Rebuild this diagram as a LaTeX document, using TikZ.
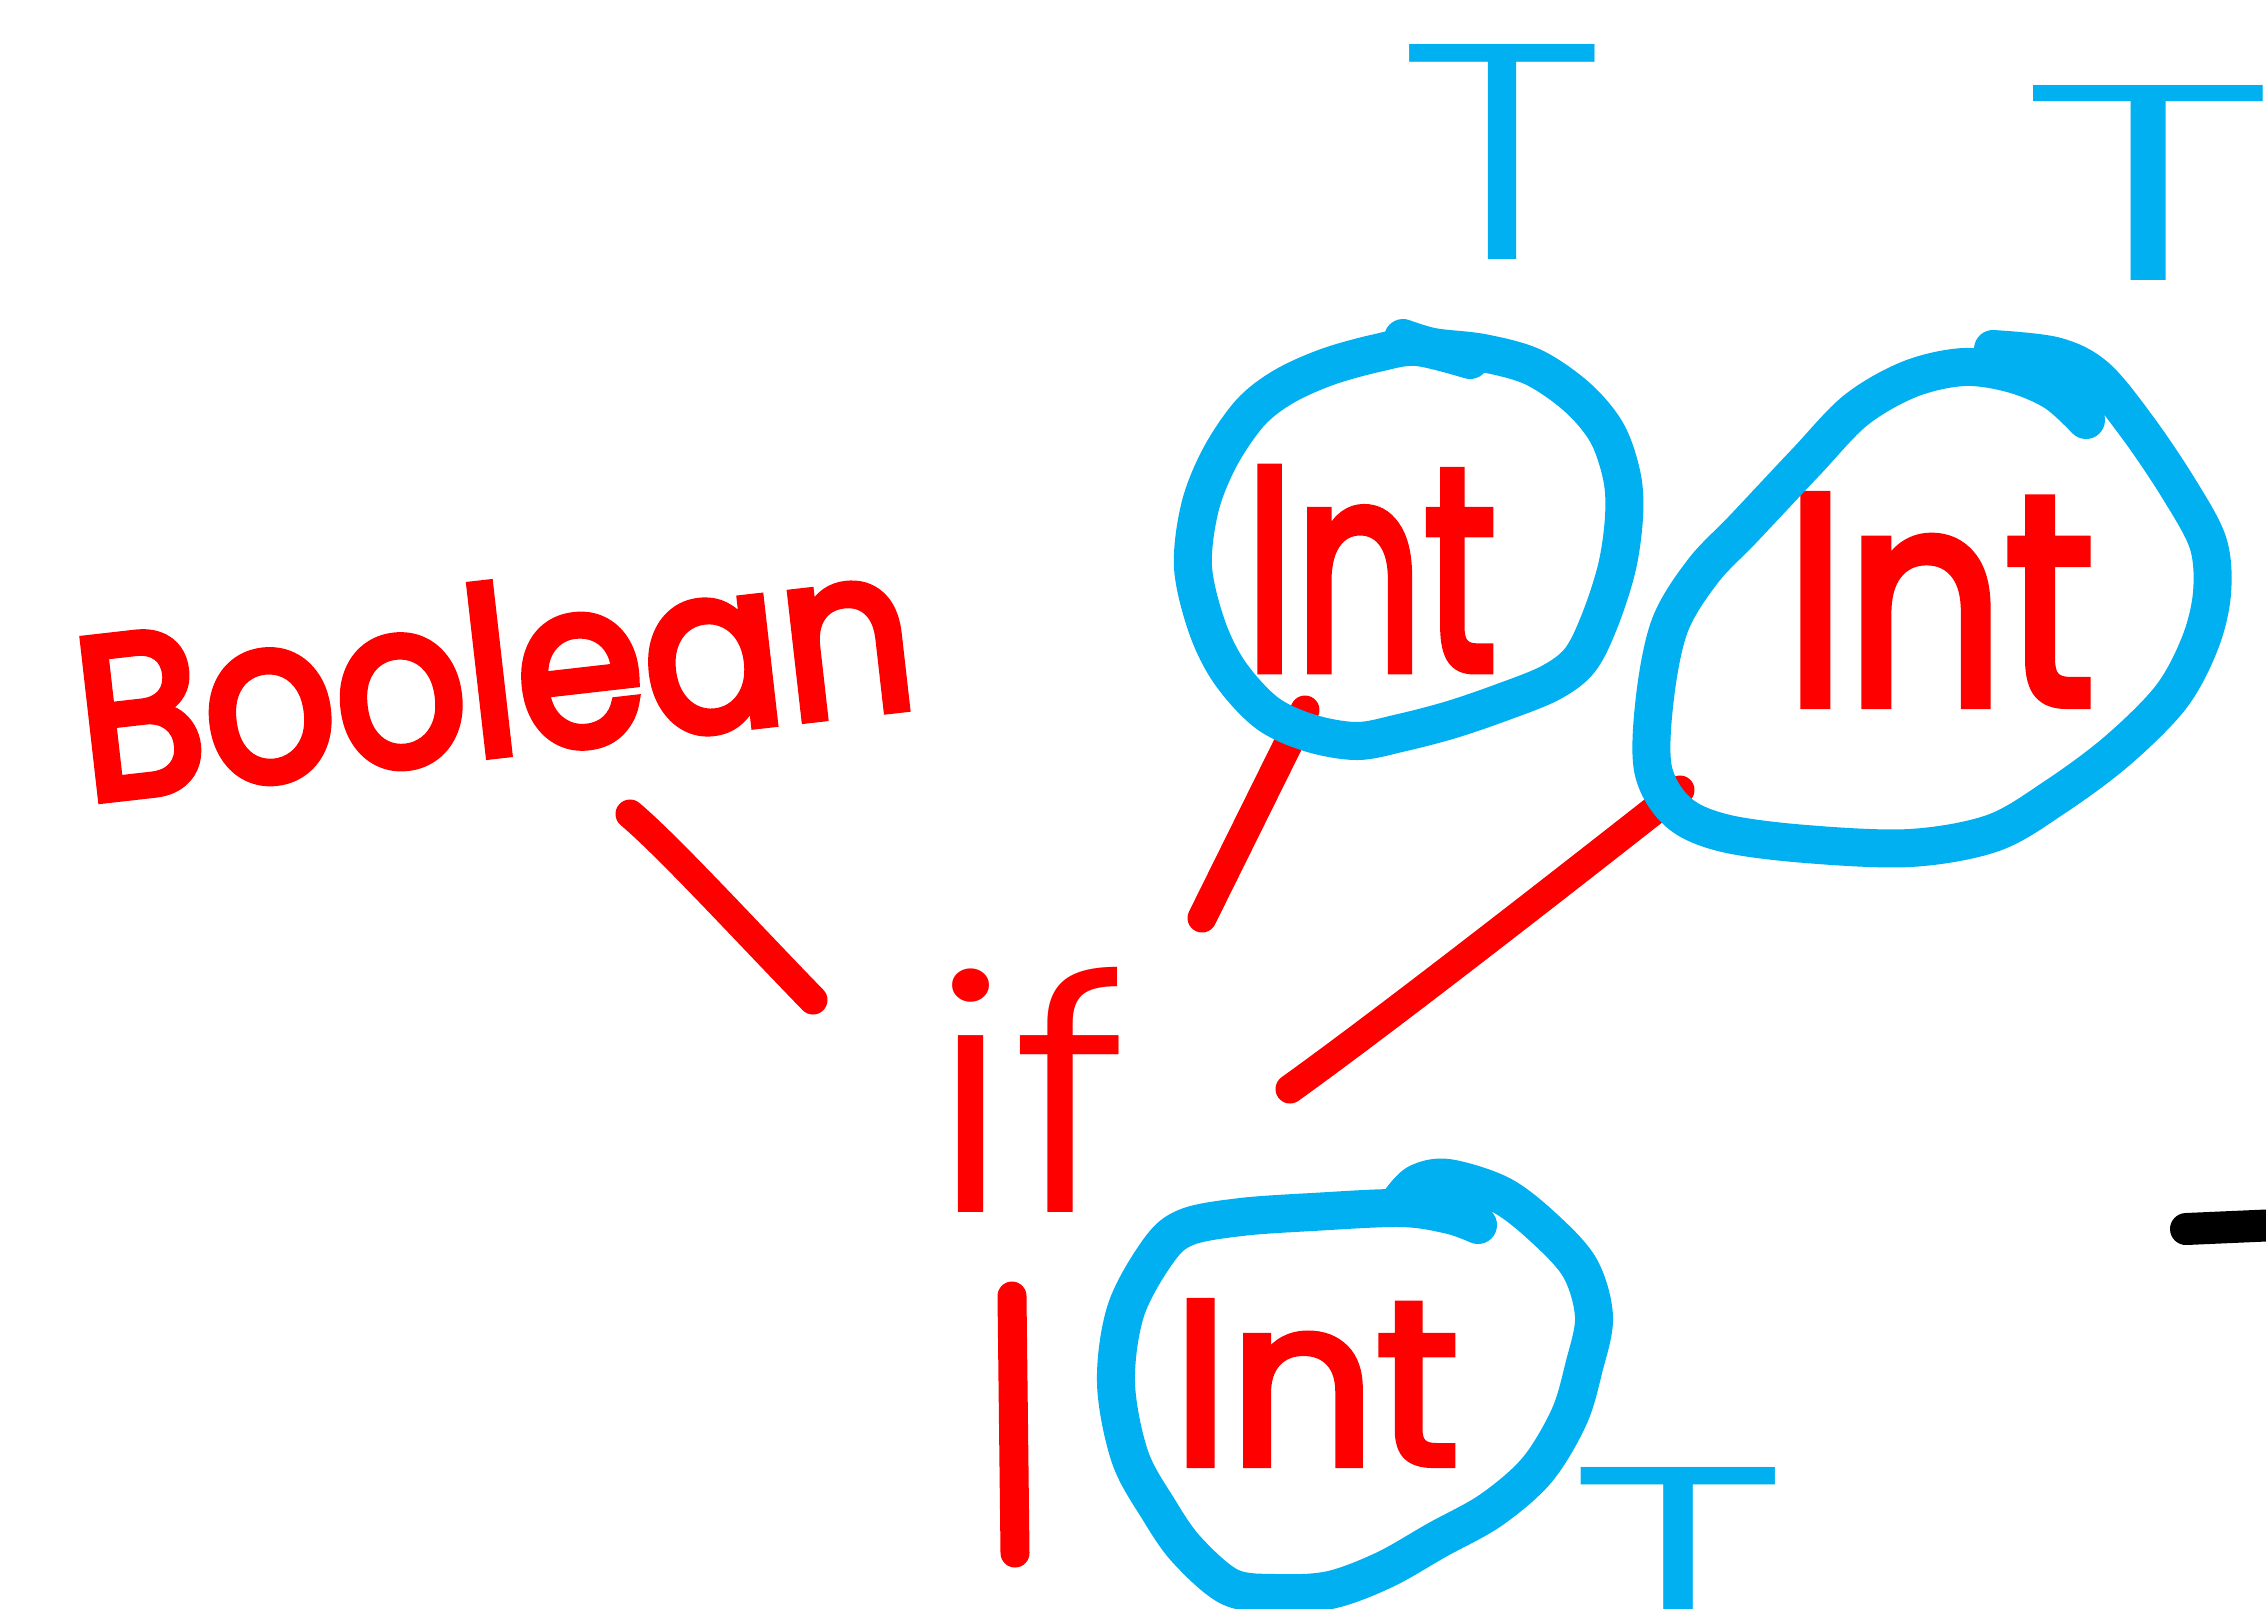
\documentclass[tikz,border=0pt]{standalone}
\usepackage{fontspec}
% hand-lettering faces: a light cut for the big letters, emboldened cuts for the squeezed words
\IfFontExistsTF{Poppins Light}
  {\newfontfamily\handlight{Poppins Light}}
  {\newfontfamily\handlight{Poppins}}
\newfontfamily\handmed{Poppins}[FakeBold=3]
\newfontfamily\hand{Poppins}[FakeBold=4]
\definecolor{inkred}{RGB}{255,0,0}
\definecolor{inkblue}{RGB}{0,176,240}
\begin{document}
\begin{tikzpicture}[x=0.1mm,y=-0.1mm,
  redink/.style={draw=inkred, line width=2.9mm, line cap=round, line join=round},
  blueink/.style={draw=inkblue, line width=3.8mm, line cap=round, line join=round},
  word/.style={inner sep=0pt, outer sep=0pt, text=inkred},
  typevar/.style={inner sep=0pt, outer sep=0pt, text=inkblue, font=\handlight}]
\useasboundingbox (0,0) rectangle (2266,1608);
\clip (0,0) rectangle (2266,1608);

% root and children
\node[word, font=\handlight] (if) at (1030,1090) {\resizebox{20mm}{24.5mm}{if}};
\node[word, font=\hand, rotate=6.5] (bool) at (494,670) {\resizebox{84mm}{17mm}{Boolean}};
\node[word, font=\handmed] (int1) at (1371,569) {\resizebox{25.2mm}{20.2mm}{Int}};
\node[word, font=\handmed] (int2) at (1940,600) {\resizebox{31mm}{20.9mm}{Int}};
\node[word, font=\handmed] (int3) at (1316,1383) {\resizebox{28.7mm}{16.3mm}{Int}};

% type variables
\node[typevar] (t1) at (1503,152) {\resizebox{21mm}{21.5mm}{T}};
\node[typevar] (t2) at (2149,183) {\resizebox{26mm}{19.5mm}{T}};
\node[typevar] (t3) at (1679,1572) {\resizebox{22mm}{21mm}{T}};

% edge ends
\coordinate (bo-a) at (630,814);
\coordinate (bo-b) at (813,1000);
\coordinate (i1-a) at (1305,710);
\coordinate (i1-b) at (1202,918);
\coordinate (i2-a) at (1680,790);
\coordinate (i2-b) at (1290,1089);
\coordinate (i3-a) at (1012,1296);
\coordinate (i3-b) at (1015,1553);

% edges from the if node
\draw[redink] (bo-a) .. controls (668,846) and (745,930) .. (bo-b);
\draw[redink] (i1-a) -- (i1-b);
\draw[redink] (i2-a) .. controls (1610,845) and (1400,1010) .. (i2-b);
\draw[redink] (i3-a) -- (i3-b);

% rings round the Int leaves
\draw[blueink] plot[smooth, tension=0.55] coordinates {
  (1403,338) (1433,347) (1483,353) (1533,367) (1577,397) (1607,433)
  (1622,477) (1624,517) (1617,567) (1600,620) (1580,660) (1550,683)
  (1500,703) (1450,720) (1400,733) (1357,741) (1310,733) (1267,713)
  (1230,673) (1207,627) (1193,567) (1200,507) (1220,457) (1250,413)
  (1283,387) (1327,367) (1377,353) (1417,347) (1470,360)};
\draw[blueink] plot[smooth, tension=0.55] coordinates {
  (1993,349) (2055,356) (2096,377) (2138,428) (2179,489) (2208,543)
  (2212,593) (2200,643) (2171,697) (2117,751) (2055,797) (1993,833)
  (1910,848) (1806,844) (1724,833) (1678,812) (1653,769) (1655,697)
  (1670,625) (1703,571) (1744,528) (1806,462) (1856,410) (1910,379)
  (1964,367) (2013,374) (2055,392) (2086,420)};
\draw[blueink] plot[smooth, tension=0.55] coordinates {
  (1401,1200) (1418,1183) (1448,1178) (1501,1195) (1544,1228) (1580,1268)
  (1594,1317) (1584,1367) (1569,1417) (1537,1470) (1491,1510) (1437,1540)
  (1384,1570) (1330,1590) (1276,1593) (1230,1587) (1187,1550) (1159,1510)
  (1130,1457) (1116,1383) (1126,1310) (1159,1250) (1187,1227) (1241,1217)
  (1312,1212) (1401,1208) (1450,1215) (1478,1225)};

% black stroke at the right edge
\coordinate (mark-a) at (2186,1229);
\coordinate (mark-b) at (2300,1224);
\draw[line width=3.2mm, line cap=round] (mark-a) -- (mark-b);
\end{tikzpicture}
\end{document}
